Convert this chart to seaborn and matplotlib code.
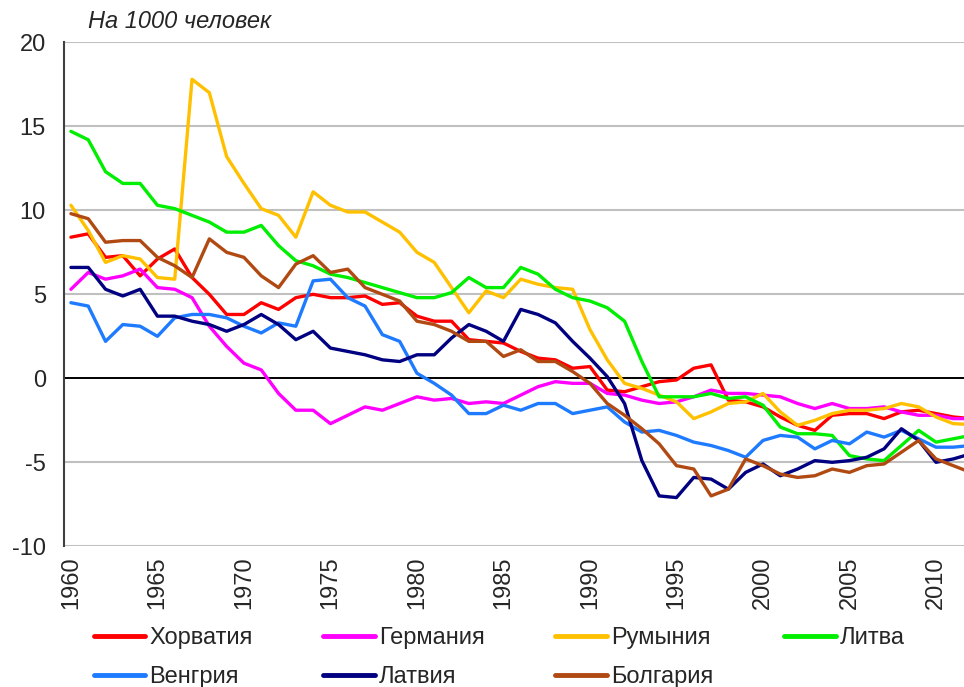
import numpy as np
import pandas as pd
import matplotlib
matplotlib.use("Agg")
import matplotlib.pyplot as plt
import seaborn as sns

years = list(range(1960, 2013))

croatia = [8.4, 8.6, 7.2, 7.3, 6.1, 7.1, 7.7, 6.0, 5.0, 3.8, 3.8,
           4.5, 4.1, 4.8, 5.0, 4.8, 4.8, 4.9, 4.4, 4.5, 3.7,
           3.4, 3.4, 2.3, 2.2, 2.1, 1.6, 1.2, 1.1, 0.6, 0.7,
           -0.7, -0.8, -0.5, -0.2, -0.1, 0.6, 0.8, -1.3, -1.4, -1.7,
           -2.3, -2.8, -3.1, -2.2, -2.1, -2.1, -2.4, -2.0, -1.9, -2.1, -2.3, -2.4]
germany = [5.3, 6.3, 5.9, 6.1, 6.5, 5.4, 5.3, 4.8, 3.1, 1.9, 0.9,
           0.5, -0.9, -1.9, -1.9, -2.7, -2.2, -1.7, -1.9, -1.5, -1.1,
           -1.3, -1.2, -1.5, -1.4, -1.5, -1.0, -0.5, -0.2, -0.3, -0.3,
           -0.9, -1.0, -1.3, -1.5, -1.4, -1.1, -0.7, -0.9, -0.9, -1.0,
           -1.1, -1.5, -1.8, -1.5, -1.8, -1.8, -1.7, -2.0, -2.2, -2.2, -2.4, -2.4]
romania = [10.3, 8.8, 6.9, 7.3, 7.1, 6.0, 5.9, 17.8, 17.0, 13.2, 11.6,
           10.1, 9.7, 8.4, 11.1, 10.3, 9.9, 9.9, 9.3, 8.7, 7.5,
           6.9, 5.4, 3.9, 5.2, 4.8, 5.9, 5.6, 5.4, 5.3, 2.9,
           1.1, -0.3, -0.6, -1.0, -1.4, -2.4, -2.0, -1.5, -1.4, -0.9,
           -2.0, -2.8, -2.5, -2.1, -1.9, -1.9, -1.8, -1.5, -1.7, -2.3, -2.7, -2.75]
lithuania = [14.7, 14.2, 12.3, 11.6, 11.6, 10.3, 10.1, 9.7, 9.3, 8.7, 8.7,
             9.1, 7.9, 7.0, 6.7, 6.2, 6.0, 5.7, 5.4, 5.1, 4.8,
             4.8, 5.1, 6.0, 5.4, 5.4, 6.6, 6.2, 5.3, 4.8, 4.6,
             4.2, 3.4, 1.0, -1.1, -1.1, -1.1, -0.9, -1.2, -1.1, -1.6,
             -2.9, -3.3, -3.3, -3.4, -4.6, -4.8, -4.9, -4.0, -3.1, -3.8, -3.6, -3.4]
hungary = [4.5, 4.3, 2.2, 3.2, 3.1, 2.5, 3.6, 3.8, 3.8, 3.6, 3.1,
           2.7, 3.3, 3.1, 5.8, 5.9, 4.8, 4.3, 2.6, 2.2, 0.3,
           -0.3, -1.0, -2.1, -2.1, -1.6, -1.9, -1.5, -1.5, -2.1, -1.9,
           -1.7, -2.6, -3.2, -3.1, -3.4, -3.8, -4.0, -4.3, -4.7, -3.7,
           -3.4, -3.5, -4.2, -3.7, -3.9, -3.2, -3.5, -3.1, -3.6, -4.1, -4.1, -4.0]
latvia = [6.6, 6.6, 5.3, 4.9, 5.3, 3.7, 3.7, 3.4, 3.2, 2.8, 3.2,
          3.8, 3.2, 2.3, 2.8, 1.8, 1.6, 1.4, 1.1, 1.0, 1.4,
          1.4, 2.4, 3.2, 2.8, 2.2, 4.1, 3.8, 3.3, 2.2, 1.2,
          0.1, -1.5, -4.9, -7.0, -7.1, -5.9, -6.0, -6.6, -5.6, -5.1,
          -5.8, -5.4, -4.9, -5.0, -4.9, -4.7, -4.2, -3.0, -3.7, -5.0, -4.8, -4.5]
bulgaria = [9.8, 9.5, 8.1, 8.2, 8.2, 7.2, 6.7, 6.0, 8.3, 7.5, 7.2,
            6.1, 5.4, 6.8, 7.3, 6.3, 6.5, 5.4, 5.0, 4.6, 3.4,
            3.2, 2.8, 2.2, 2.2, 1.3, 1.7, 1.0, 1.0, 0.4, -0.3,
            -1.5, -2.2, -3.0, -3.9, -5.2, -5.4, -7.0, -6.6, -4.8, -5.2,
            -5.7, -5.9, -5.8, -5.4, -5.6, -5.2, -5.1, -4.4, -3.7, -4.8, -5.2, -5.6]

countries = ["Хорватия", "Германия", "Румыния", "Литва", "Венгрия", "Латвия", "Болгария"]
series = [croatia, germany, romania, lithuania, hungary, latvia, bulgaria]
colors = ["#FF0000", "#FF00FF", "#FFC000", "#00EE00", "#1E7BFF", "#000080", "#B04A12"]

df = pd.concat([pd.DataFrame({"year": years, "value": s, "country": c})
                for c, s in zip(countries, series)], ignore_index=True)

sns.set_style("white")
plt.rcParams["font.family"] = ["Liberation Sans", "DejaVu Sans"]
plt.rcParams["axes.unicode_minus"] = False

fig = plt.figure(figsize=(9.64, 6.87), dpi=100)
ax = fig.add_axes([0.0664, 0.2048, 0.9336, 0.7336])

sns.lineplot(data=df, x="year", y="value", hue="country", hue_order=countries,
             palette=dict(zip(countries, colors)), linewidth=2.4, ax=ax, legend=True)

ax.set_xlim(1959.6, 2011.62)
ax.set_ylim(-10, 20)
ax.set_yticks(range(-10, 21, 5))
ax.set_xticks(range(1960, 2011, 5))
ax.set_xticklabels([str(y) for y in range(1960, 2011, 5)], rotation=90)
ax.set_xlabel("")
ax.set_ylabel("")

for y in [-10, -5, 5, 10, 15, 20]:
    ax.axhline(y, color="#C0C0C0", lw=1.5, zorder=0)
ax.axhline(0, color="black", lw=1.4, zorder=1)

for s in ["top", "right", "bottom"]:
    ax.spines[s].set_visible(False)
ax.spines["left"].set_color("#404040")
ax.spines["left"].set_linewidth(1.5)

ax.tick_params(axis="y", length=4, width=1, color="#404040", pad=9, labelsize=17)
ax.tick_params(axis="x", length=0, pad=7, labelsize=17)

fig.text(0.091, 0.968, "На 1000 человек", fontsize=17, style="italic", va="center", ha="left")

# matplotlib fills legend columns first, so reorder to get row-wise order
handles, labels = ax.get_legend_handles_labels()
idx = [0, 4, 1, 5, 2, 6, 3]
ax.legend([handles[i] for i in idx], [labels[i] for i in idx], ncol=4,
          loc="upper left", bbox_to_anchor=(0.097, 0.087), bbox_transform=fig.transFigure,
          frameon=False, fontsize=17, handlelength=2.2, handletextpad=0.15,
          columnspacing=3.0, labelspacing=0.72, borderpad=0, borderaxespad=0)
for line in ax.get_legend().get_lines():
    line.set_linewidth(3.5)

fig.savefig("out.png", dpi=100)
